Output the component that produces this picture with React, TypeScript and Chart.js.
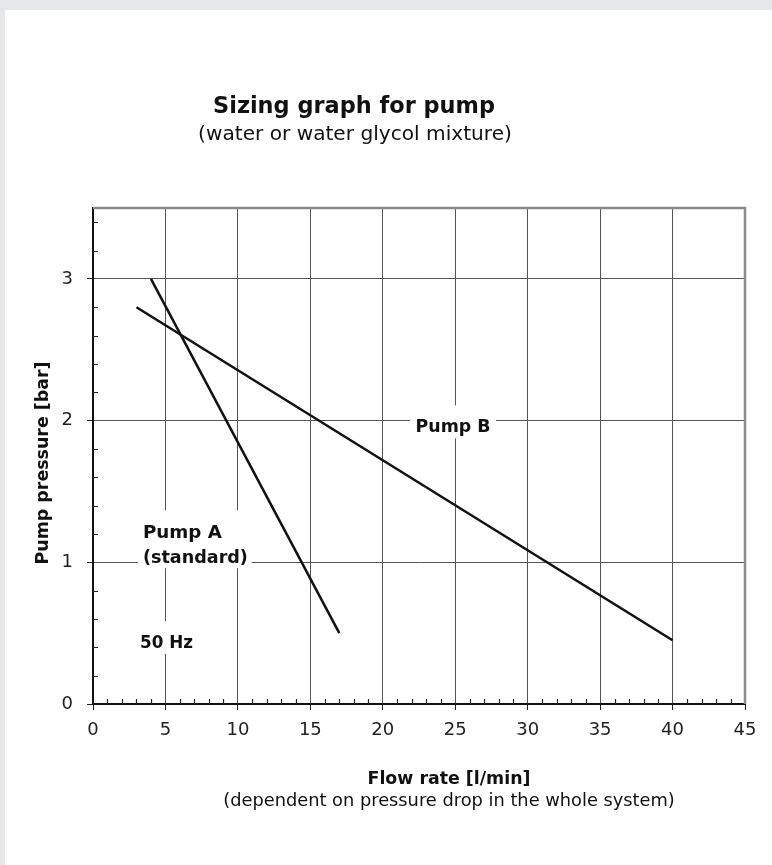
import React, { useEffect, useRef } from "react";
import { Chart, registerables } from "chart.js";

Chart.register(...registerables);

// ---- data ----
const flowA = [4, 17];
const pressureA = [3.0, 0.5];
const flowB = [3, 40];
const pressureB = [2.8, 0.45];

const xMin = 0;
const xMax = 45;
const xStep = 5;
const xMinorStep = 1;
const yMin = 0;
const yMax = 3.5;
const yStep = 1;
const yMinorStep = 0.2;

const titleText = "Sizing graph for pump";
const subtitleText = "(water or water glycol mixture)";
const xTitleText = "Flow rate [l/min]";
const xSubText = "(dependent on pressure drop in the whole system)";
const yTitleText = "Pump pressure [bar]";
const labelPumpB = "Pump B";
const labelPumpA = ["Pump A", "(standard)"];
const labelHz = "50 Hz";

const FONT = "'DejaVu Sans', 'Liberation Sans', sans-serif";

function fitSize(ctx: CanvasRenderingContext2D, text: string, weight: string, width: number) {
  ctx.font = `${weight} 100px ${FONT}`;
  const w = ctx.measureText(text).width;
  return (100 * width) / w;
}

function drawFit(
  ctx: CanvasRenderingContext2D,
  text: string,
  weight: string,
  width: number,
  x: number,
  y: number,
  align: CanvasTextAlign
) {
  const size = fitSize(ctx, text, weight, width);
  ctx.font = `${weight} ${size}px ${FONT}`;
  ctx.textAlign = align;
  ctx.textBaseline = "alphabetic";
  ctx.fillText(text, x, y);
}

const pumpPlugin = {
  id: "pumpDecor",
  beforeDraw(chart: any) {
    const { ctx, width, height } = chart;
    ctx.save();
    ctx.fillStyle = "#e6e7e9";
    ctx.fillRect(0, 0, width, height);
    ctx.fillStyle = "#ffffff";
    ctx.fillRect(5, 10, width - 5, height - 10);
    ctx.restore();
  },
  afterDatasetsDraw(chart: any) {
    const { ctx } = chart;
    const xs = chart.scales.x;
    const ys = chart.scales.y;
    ctx.save();
    ctx.fillStyle = "#111";

    // Pump B label
    const bx = xs.getPixelForValue(24.85);
    const by = ys.getPixelForValue(1.98);
    ctx.fillStyle = "#fff";
    ctx.fillRect(bx - 43, by - 18, 86, 33);
    ctx.fillStyle = "#111";
    drawFit(ctx, labelPumpB, "bold", 75, bx, by + 9, "center");

    // Pump A label
    const ax = xs.getPixelForValue(3.45);
    const ay1 = ys.getPixelForValue(1.17);
    const ay2 = ys.getPixelForValue(0.995);
    ctx.fillStyle = "#fff";
    ctx.fillRect(ax - 5, ay1 - 28, 114, 58);
    ctx.fillStyle = "#111";
    drawFit(ctx, labelPumpA[0], "bold", 79, ax, ay1, "left");
    drawFit(ctx, labelPumpA[1], "bold", 105, ax, ay2, "left");

    // 50 Hz label
    const hx = xs.getPixelForValue(3.25);
    const hy = ys.getPixelForValue(0.395);
    ctx.fillStyle = "#fff";
    ctx.fillRect(hx - 4, hy - 27, 61, 33);
    ctx.fillStyle = "#111";
    drawFit(ctx, labelHz, "bold", 53, hx, hy, "left");
    ctx.restore();
  },
  afterDraw(chart: any) {
    const { ctx, chartArea } = chart;
    const xs = chart.scales.x;
    const ys = chart.scales.y;
    ctx.save();
    // minor ticks
    ctx.strokeStyle = "#222";
    ctx.lineWidth = 1.2;
    ctx.beginPath();
    for (let v = xMin + xMinorStep; v < xMax; v += xMinorStep) {
      if (Math.abs(v / xStep - Math.round(v / xStep)) < 1e-6) continue;
      const px = Math.round(xs.getPixelForValue(v)) + 0.5;
      ctx.moveTo(px, chartArea.bottom);
      ctx.lineTo(px, chartArea.bottom - 5);
    }
    for (let i = 1; yMin + i * yMinorStep < yMax + 1e-6; i++) {
      const v = yMin + i * yMinorStep;
      if (Math.abs(v / yStep - Math.round(v / yStep)) < 1e-6) continue;
      const py = Math.round(ys.getPixelForValue(v)) + 0.5;
      ctx.moveTo(chartArea.left, py);
      ctx.lineTo(chartArea.left + 5, py);
    }
    ctx.stroke();

    // top / right frame
    ctx.strokeStyle = "#8a8a8a";
    ctx.lineWidth = 2.5;
    ctx.beginPath();
    ctx.moveTo(chartArea.left, chartArea.top);
    ctx.lineTo(chartArea.right, chartArea.top);
    ctx.lineTo(chartArea.right, chartArea.bottom);
    ctx.stroke();

    // titles
    ctx.fillStyle = "#111";
    drawFit(ctx, titleText, "bold", 282, 354, 113, "center");
    drawFit(ctx, subtitleText, "normal", 314, 355, 140, "center");
    drawFit(ctx, xTitleText, "bold", 163, 449, 784, "center");
    drawFit(ctx, xSubText, "normal", 452, 449, 806, "center");

    // y title
    ctx.save();
    ctx.translate(43, 463);
    ctx.rotate(-Math.PI / 2);
    const s = fitSize(ctx, yTitleText, "bold", 203);
    ctx.font = `bold ${s}px ${FONT}`;
    ctx.textAlign = "center";
    ctx.textBaseline = "middle";
    ctx.fillText(yTitleText, 0, 0);
    ctx.restore();

    ctx.restore();
  },
};

export default function App() {
  const ref = useRef<HTMLCanvasElement | null>(null);
  useEffect(() => {
    if (!ref.current) return;
    const tickFont = { family: FONT, size: 18 };
    const chart = new Chart(ref.current, {
      type: "scatter",
      data: {
        datasets: [
          {
            label: "Pump A",
            data: flowA.map((x, i) => ({ x, y: pressureA[i] })),
            showLine: true,
            borderColor: "#111",
            borderWidth: 2.5,
            pointRadius: 0,
            fill: false,
          },
          {
            label: "Pump B",
            data: flowB.map((x, i) => ({ x, y: pressureB[i] })),
            showLine: true,
            borderColor: "#111",
            borderWidth: 2.5,
            pointRadius: 0,
            fill: false,
          },
        ],
      },
      options: {
        animation: false,
        responsive: false,
        layout: { padding: { left: 0, top: 208, right: 27, bottom: 0 } },
        plugins: {
          legend: { display: false },
          tooltip: { enabled: false },
          title: { display: false },
        },
        scales: {
          x: {
            type: "linear",
            min: xMin,
            max: xMax,
            ticks: { stepSize: xStep, font: tickFont, color: "#222", padding: 10, maxRotation: 0 },
            grid: { color: "#555", lineWidth: 1, tickLength: 6, tickColor: "#222" },
            border: { color: "#111", width: 2 },
            afterFit: (s: any) => {
              s.height = 161;
            },
          },
          y: {
            type: "linear",
            min: yMin,
            max: yMax,
            ticks: { stepSize: yStep, includeBounds: false, font: tickFont, color: "#222", padding: 14 },
            grid: { color: "#555", lineWidth: 1, tickLength: 6, tickColor: "#222" },
            border: { color: "#111", width: 2 },
            afterFit: (s: any) => {
              s.width = 93;
            },
          },
        },
      } as any,
      plugins: [pumpPlugin],
    });
    return () => chart.destroy();
  }, []);
  return (
    <canvas
      ref={ref}
      width={772}
      height={865}
      style={{ position: "fixed", left: 0, top: 0, width: 772, height: 865 }}
    />
  );
}
